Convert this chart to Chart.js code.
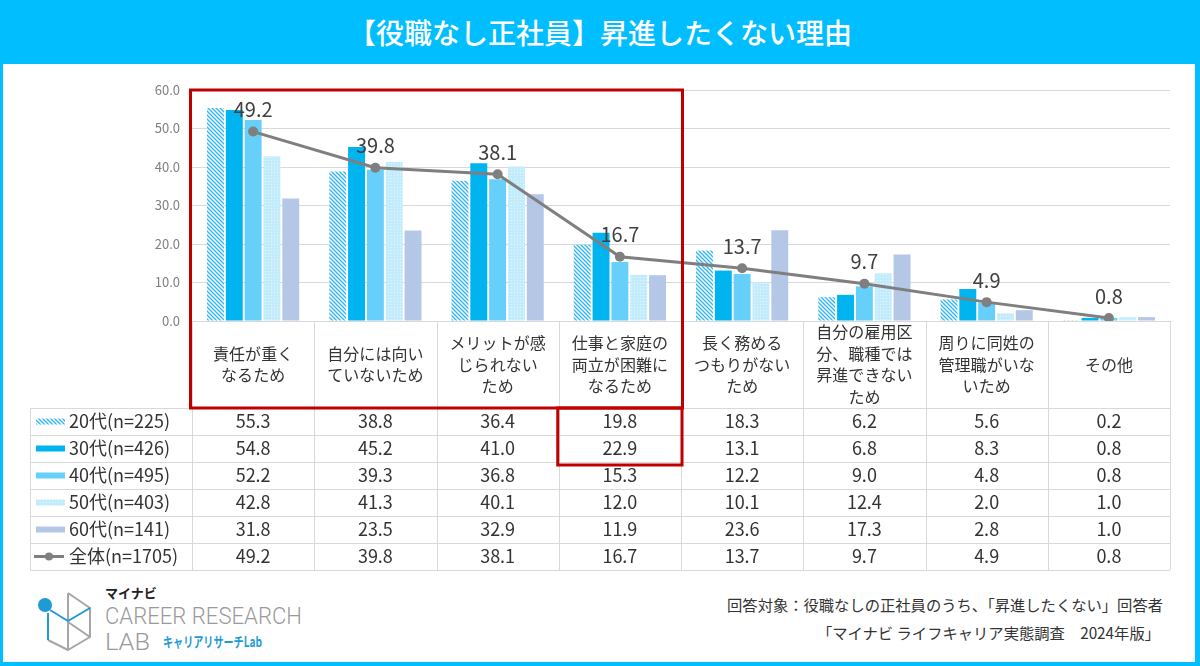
<!DOCTYPE html>
<html lang="ja">
<head>
<meta charset="utf-8">
<title>【役職なし正社員】昇進したくない理由</title>
<script src="https://cdn.jsdelivr.net/npm/chart.js@4.4.1/dist/chart.umd.min.js"></script>
<style>
  html,body{margin:0;padding:0;}
  body{width:1200px;height:666px;background:#00BEFF;position:relative;overflow:hidden;font-family:"Noto Sans CJK JP",sans-serif;}
  #title{position:absolute;left:0;top:0;width:1200px;height:64px;line-height:64px;text-align:center;color:#fff;font-size:28px;font-weight:500;}
  #panel{position:absolute;left:3px;top:64px;width:1192px;height:598px;background:#fff;}
  #chart{position:absolute;left:0;top:0;}
  .note{position:absolute;font-size:15.3px;line-height:22px;color:#333;white-space:nowrap;}
  #logo{position:absolute;left:0;top:580px;}
</style>
</head>
<body>
<div id="title">【役職なし正社員】昇進したくない理由</div>
<div id="panel"></div>
<div class="note" style="right:37px;top:593px;">回答対象：役職なしの正社員のうち、「昇進したくない」回答者</div>
<div class="note" style="right:40px;top:621px;">「マイナビ ライフキャリア実態調査　2024年版」</div>
<svg id="logo" width="320" height="80" viewBox="0 0 320 80">
  <g fill="none" stroke="#A6A6A6" stroke-width="2" stroke-linejoin="round">
    <path d="M68,13 L90,28 L90,57 L68,70 L48,60"/>
    <path d="M68,13 L68,70"/>
    <path d="M68,42 L90,57"/>
  </g>
  <g fill="none" stroke="#1E9BD7" stroke-width="2" stroke-linejoin="round">
    <path d="M50,30 L68,41 L90,28"/>
    <path d="M48,33 L48,60"/>
  </g>
  <circle cx="45" cy="25" r="7" fill="#1E9BD7"/>
  <text x="105" y="18" font-size="13" font-weight="700" fill="#222" font-family="Noto Sans CJK JP">マイナビ</text>
  <text x="105" y="44" font-size="23" fill="#9A9A9A" font-family="Roboto" font-weight="300" textLength="197" lengthAdjust="spacingAndGlyphs">CAREER RESEARCH</text>
  <text x="105" y="70" font-size="23" fill="#9A9A9A" font-family="Roboto" font-weight="300" textLength="45" lengthAdjust="spacingAndGlyphs">LAB</text>
  <text x="163" y="67" font-size="14" font-weight="700" fill="#1E9BD7" font-family="Noto Sans CJK JP" textLength="99" lengthAdjust="spacingAndGlyphs">キャリアリサーチLab</text>
</svg>
<canvas id="chart" width="1200" height="666"></canvas>
<script>
// categories (multi-line tick labels) and series
const categories = [
  ['責任が重く','なるため'],
  ['自分には向い','ていないため'],
  ['メリットが感','じられない','ため'],
  ['仕事と家庭の','両立が困難に','なるため'],
  ['長く務める','つもりがない','ため'],
  ['自分の雇用区','分、職種では','昇進できない','ため'],
  ['周りに同姓の','管理職がいな','いため'],
  ['その他']
];
const seriesNames = ['20代(n=225)','30代(n=426)','40代(n=495)','50代(n=403)','60代(n=141)','全体(n=1705)'];
const age20 = [55.3, 38.8, 36.4, 19.8, 18.3, 6.2, 5.6, 0.2];
const age30 = [54.8, 45.2, 41.0, 22.9, 13.1, 6.8, 8.3, 0.8];
const age40 = [52.2, 39.3, 36.8, 15.3, 12.2, 9.0, 4.8, 0.8];
const age50 = [42.8, 41.3, 40.1, 12.0, 10.1, 12.4, 2.0, 1.0];
const age60 = [31.8, 23.5, 32.9, 11.9, 23.6, 17.3, 2.8, 1.0];
const total = [49.2, 39.8, 38.1, 16.7, 13.7, 9.7, 4.9, 0.8];
const yMin = 0, yMax = 60, yStep = 10;

const FONT = '"Noto Sans CJK JP", sans-serif';
const GRID = '#D9D9D9';
const LINE = '#7F7F7F';

function stripePattern(color){
  const c = document.createElement('canvas'); c.width = c.height = 4;
  const g = c.getContext('2d');
  g.fillStyle = '#fff'; g.fillRect(0,0,4,4);
  g.strokeStyle = color; g.lineWidth = 1.3;
  g.beginPath();
  g.moveTo(-1,-1); g.lineTo(5,5);
  g.moveTo(-1,3); g.lineTo(1,5);
  g.moveTo(3,-1); g.lineTo(5,1);
  g.stroke();
  return g.createPattern(c,'repeat');
}
function dotPattern(base, dot){
  const c = document.createElement('canvas'); c.width = c.height = 3;
  const g = c.getContext('2d');
  g.fillStyle = base; g.fillRect(0,0,3,3);
  g.fillStyle = dot; g.fillRect(1,1,1,1);
  return g.createPattern(c,'repeat');
}

const fills = [
  stripePattern('#2DB7F0'),
  '#00B4F0',
  '#66CFFA',
  dotPattern('#C2ECFC','#E2F6FE'),
  '#B4C7E7'
];
const barData = [age20, age30, age40, age50, age60];

const datasets = barData.map((d,i)=>({
  type:'bar', label:seriesNames[i], data:d,
  backgroundColor:fills[i], borderWidth:0, order:1,
  categoryPercentage:0.77, barPercentage:0.9
}));
datasets.push({
  type:'line', label:seriesNames[5], data:total, order:0,
  borderColor:LINE, backgroundColor:LINE, borderWidth:3,
  pointRadius:5, pointHoverRadius:5, pointBackgroundColor:LINE, pointBorderWidth:0,
  tension:0
});

const LABEL_ROW_H = 87, ROW_H = 27, LEGEND_LEFT = 30;

// value labels above the 全体 line
const lineLabels = {
  id:'lineLabels',
  afterDatasetsDraw(chart){
    const ctx = chart.ctx;
    const meta = chart.getDatasetMeta(5);
    ctx.save();
    ctx.font = '20px ' + FONT;
    ctx.fillStyle = '#404040';
    ctx.textAlign = 'center'; ctx.textBaseline = 'middle';
    meta.data.forEach((pt,i)=>{ ctx.fillText(total[i].toFixed(1), pt.x, pt.y - 22); });
    ctx.restore();
  }
};

// data table under the chart + red highlight boxes
const dataTable = {
  id:'dataTable',
  afterDraw(chart){
    const ctx = chart.ctx, a = chart.chartArea;
    const n = categories.length;
    const colW = (a.right - a.left) / n;
    const colX = i => a.left + i * colW;
    const top = a.bottom, rowsTop = top + LABEL_ROW_H;
    const nRows = seriesNames.length, bottom = rowsTop + nRows * ROW_H;
    const px = v => Math.round(v) + 0.5;

    ctx.save();
    ctx.strokeStyle = GRID; ctx.lineWidth = 1;
    ctx.beginPath();
    ctx.moveTo(a.left, px(top)); ctx.lineTo(a.right, px(top));
    for (let r = 0; r <= nRows; r++){
      const y = px(rowsTop + r * ROW_H);
      ctx.moveTo(LEGEND_LEFT, y); ctx.lineTo(a.right, y);
    }
    for (let i = 0; i <= n; i++){
      const x = px(colX(i));
      ctx.moveTo(x, top); ctx.lineTo(x, bottom);
    }
    ctx.moveTo(px(LEGEND_LEFT), rowsTop); ctx.lineTo(px(LEGEND_LEFT), bottom);
    ctx.stroke();

    // category labels
    ctx.fillStyle = '#333';
    ctx.textAlign = 'center'; ctx.textBaseline = 'middle';
    ctx.font = '16px ' + FONT;
    const lh = 21.5;
    categories.forEach((lines,i)=>{
      const cx = colX(i) + colW/2, cy = top + LABEL_ROW_H/2;
      lines.forEach((t,k)=> ctx.fillText(t, cx, cy + (k - (lines.length-1)/2) * lh));
    });

    // rows
    const rows = [...barData, total];
    rows.forEach((vals,r)=>{
      const cy = rowsTop + r * ROW_H + ROW_H/2;
      // legend swatch
      if (r < barData.length){
        ctx.fillStyle = fills[r];
        ctx.fillRect(36, cy - 3, 29, 6);
      } else {
        ctx.strokeStyle = LINE; ctx.lineWidth = 3;
        ctx.beginPath(); ctx.moveTo(34, cy); ctx.lineTo(64, cy); ctx.stroke();
        ctx.fillStyle = LINE;
        ctx.beginPath(); ctx.arc(49, cy, 4, 0, Math.PI*2); ctx.fill();
      }
      ctx.fillStyle = '#333';
      ctx.font = '18px ' + FONT;
      ctx.textAlign = 'left';
      ctx.fillText(seriesNames[r], 69, cy);
      ctx.textAlign = 'center';
      vals.forEach((v,i)=> ctx.fillText(v.toFixed(1), colX(i) + colW/2, cy));
    });

    // highlight boxes
    ctx.strokeStyle = '#C00000'; ctx.lineWidth = 3;
    ctx.strokeRect(a.left - 1.5, a.top, colX(4) - a.left + 3, rowsTop - a.top);
    ctx.strokeRect(colX(3) - 1, rowsTop, colW + 2, 2 * ROW_H + 3);
    ctx.restore();
  }
};

new Chart(document.getElementById('chart'), {
  data:{ labels:categories.map(l=>l.join('')), datasets },
  options:{
    responsive:false, animation:false, devicePixelRatio:1,
    layout:{ padding:{ top:90, right:30, bottom:345, left:0 } },
    plugins:{ legend:{display:false}, tooltip:{enabled:false} },
    scales:{
      x:{ display:false, offset:true },
      y:{
        min:yMin, max:yMax,
        afterFit(scale){ scale.width = 192; },
        border:{ display:false },
        grid:{ color:GRID, lineWidth:1, drawTicks:false },
        ticks:{ stepSize:yStep, padding:12, color:'#808080', font:{ size:13, family:FONT },
                callback:v=>v.toFixed(1) }
      }
    }
  },
  plugins:[lineLabels, dataTable]
});
</script>
</body>
</html>
